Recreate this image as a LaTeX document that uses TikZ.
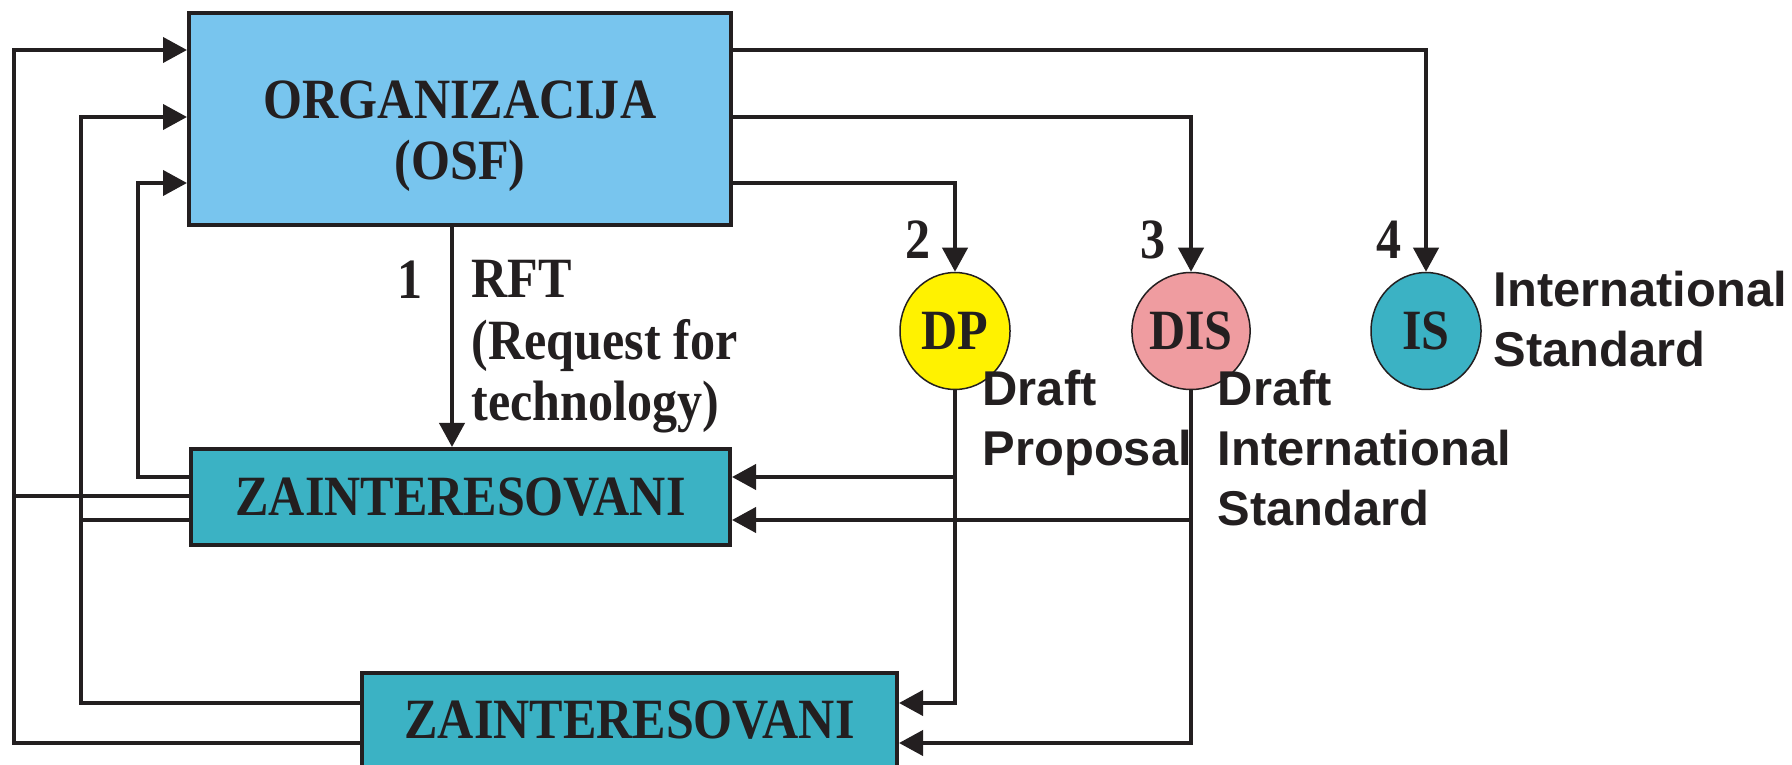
\documentclass[tikz,border=0pt]{standalone}
\usepackage{fontspec}
\setsansfont{Liberation Sans}
\newfontfamily\condserif{Liberation Serif}[FakeStretch=0.88]
\usepackage{tikz}
\usetikzlibrary{shapes.geometric, arrows.meta, calc}
\usepackage{xcolor}
\definecolor{cOrg}{HTML}{78C5EE}
\definecolor{cTeal}{HTML}{3BB2C4}
\definecolor{cYellow}{HTML}{FFF200}
\definecolor{cPink}{HTML}{EF9CA0}
\definecolor{cLine}{HTML}{231F20}
\tikzset{
  serifbold/.style={
    font=\condserif\bfseries\fontsize{16.2}{17.4}\selectfont,
    text=cLine, inner sep=0pt,
  },
  blockbox/.style={
    serifbold, draw=cLine, fill=#1, line width=0.4mm,
  },
  stagenode/.style={
    serifbold, ellipse, draw=cLine, fill=#1, line width=0.15mm,
    minimum width=11mm, minimum height=11.7mm,
  },
  notelabel/.style={
    font=\sffamily\bfseries\fontsize{13.9}{17.1}\selectfont,
    text=cLine, align=left, anchor=north west, inner sep=0pt,
  },
  arw/.style={-{Triangle[length=2.4mm, width=2.5mm]}, line width=0.4mm, color=cLine},
  wire/.style={line width=0.4mm, color=cLine},
}

\begin{document}
\begin{tikzpicture}[x=0.1mm, y=-0.1mm]
  \useasboundingbox (0,0) rectangle (1792,765);

  % Organization and interested parties
  \node[blockbox=cOrg, minimum width=54.2mm, minimum height=21.25mm]
    (org) at (460,119) {};
  \node[serifbold, align=center, anchor=north]
    (orgname) at (460,80) {ORGANIZACIJA\\(OSF)};
  \node[blockbox=cTeal, minimum width=53.9mm, minimum height=9.6mm]
    (z1) at (460.5,497) {ZAINTERESOVANI};
  \node[blockbox=cTeal, minimum width=53.5mm, minimum height=9.4mm]
    (z2) at (629.5,720) {ZAINTERESOVANI};

  % Stages
  \node[stagenode=cYellow] (dp) at (955,331) {DP};
  \node[stagenode=cPink] (dis) at (1191,331) {DIS};
  \node[stagenode=cTeal] (is) at (1426,331) {IS};

  \node[serifbold] (n1) at (410,280) {1};
  \node[serifbold] (n2) at (918,240) {2};
  \node[serifbold] (n3) at (1153,240) {3};
  \node[serifbold] (n4) at (1389,240) {4};

  \node[serifbold, align=left, anchor=north west]
    (rft) at (471,260) {RFT\\(Request for\\technology)};

  \node[notelabel] (dpname) at (982,369) {Draft\\Proposal};
  \node[notelabel] (disname) at (1217,369) {Draft\\International\\Standard};
  \node[notelabel] (isname) at (1493,270) {International\\Standard};

  % Organization to stages
  \draw[arw] (org.east |- 0,50) -| (is);
  \draw[arw] (org.east |- 0,117) -| (dis);
  \draw[arw] (org.east |- 0,183) -| (dp);
  \draw[arw] (org.south -| 452,0) -- (z1.north -| 452,0);

  % Stages to interested parties
  \draw[arw] (dp) |- (z2.east |- 0,703);
  \draw[arw] (dis) |- (z2.east |- 0,743);
  \draw[arw] (dp.south |- 0,477) -- (z1.east |- 0,477);
  \draw[arw] (dis.south |- 0,520) -- (z1.east |- 0,520);

  % Feedback to organization
  \draw[arw] (z1.west |- 0,477) -- (138,477) |- (org.west |- 0,183);
  \draw[wire] (z1.west |- 0,496) -- (14,496);
  \draw[wire] (z1.west |- 0,520) -- (81,520);
  \draw[arw] (z2.west |- 0,703) -- (81,703) |- (org.west |- 0,117);
  \draw[arw] (z2.west |- 0,743) -- (14,743) |- (org.west |- 0,50);

\end{tikzpicture}
\end{document}
